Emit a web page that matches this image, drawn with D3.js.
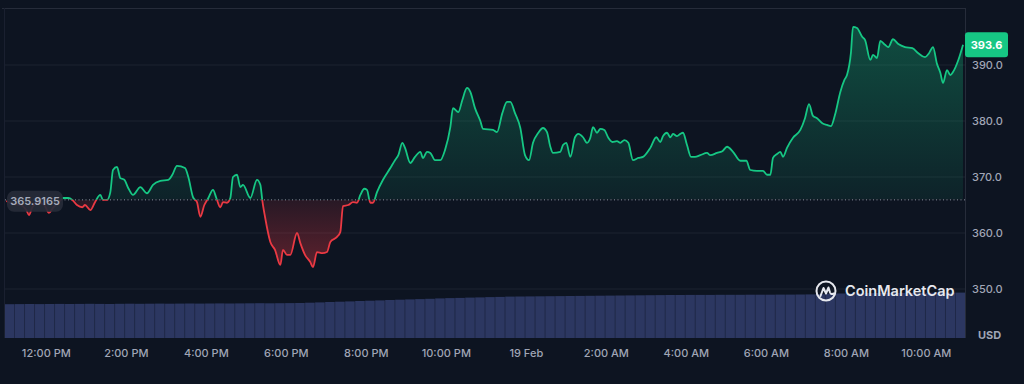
<!DOCTYPE html>
<html>
<head>
<meta charset="utf-8">
<script src="https://cdn.jsdelivr.net/npm/d3@7"></script>
<style>
  html, body { margin: 0; padding: 0; background: #0d1421; }
  svg { display: block; font-family: Inter, "Noto Sans", sans-serif; }
</style>
</head>
<body>
<svg id="chart" width="1024" height="384"></svg>
<script>
// ---------- DATA ----------
const times = [
"2024-02-18T11:00","2024-02-18T11:09","2024-02-18T11:21","2024-02-18T11:30","2024-02-18T11:34","2024-02-18T11:39","2024-02-18T11:48","2024-02-18T11:57",
"2024-02-18T12:04","2024-02-18T12:10","2024-02-18T12:18","2024-02-18T12:25","2024-02-18T12:33","2024-02-18T12:39","2024-02-18T12:46","2024-02-18T12:54","2024-02-18T12:58",
"2024-02-18T13:06","2024-02-18T13:13","2024-02-18T13:21","2024-02-18T13:25","2024-02-18T13:31","2024-02-18T13:36","2024-02-18T13:40","2024-02-18T13:46","2024-02-18T13:51","2024-02-18T13:57",
"2024-02-18T14:03","2024-02-18T14:10","2024-02-18T14:21","2024-02-18T14:31","2024-02-18T14:40","2024-02-18T14:51",
"2024-02-18T15:03","2024-02-18T15:09","2024-02-18T15:16","2024-02-18T15:28","2024-02-18T15:33","2024-02-18T15:40","2024-02-18T15:46","2024-02-18T15:51","2024-02-18T15:57",
"2024-02-18T16:03","2024-02-18T16:10","2024-02-18T16:15","2024-02-18T16:21","2024-02-18T16:25","2024-02-18T16:31","2024-02-18T16:36","2024-02-18T16:40","2024-02-18T16:46","2024-02-18T16:51","2024-02-18T16:55",
"2024-02-18T17:06","2024-02-18T17:16","2024-02-18T17:21","2024-02-18T17:24","2024-02-18T17:28","2024-02-18T17:36","2024-02-18T17:43","2024-02-18T17:51","2024-02-18T17:55",
"2024-02-18T18:01","2024-02-18T18:06","2024-02-18T18:16","2024-02-18T18:21","2024-02-18T18:28","2024-02-18T18:36","2024-02-18T18:40","2024-02-18T18:46","2024-02-18T18:54",
"2024-02-18T19:01","2024-02-18T19:06","2024-02-18T19:16","2024-02-18T19:21","2024-02-18T19:25","2024-02-18T19:33","2024-02-18T19:40","2024-02-18T19:46","2024-02-18T19:51","2024-02-18T19:57",
"2024-02-18T20:01","2024-02-18T20:06","2024-02-18T20:10","2024-02-18T20:16","2024-02-18T20:25","2024-02-18T20:36","2024-02-18T20:43","2024-02-18T20:48","2024-02-18T20:54","2024-02-18T20:58",
"2024-02-18T21:06","2024-02-18T21:13","2024-02-18T21:21","2024-02-18T21:25","2024-02-18T21:31","2024-02-18T21:36","2024-02-18T21:43","2024-02-18T21:51","2024-02-18T21:58",
"2024-02-18T22:06","2024-02-18T22:10","2024-02-18T22:18","2024-02-18T22:24","2024-02-18T22:31","2024-02-18T22:36","2024-02-18T22:43","2024-02-18T22:51","2024-02-18T22:55",
"2024-02-18T23:10","2024-02-18T23:16","2024-02-18T23:24","2024-02-18T23:31","2024-02-18T23:36","2024-02-18T23:43","2024-02-18T23:51","2024-02-18T23:58",
"2024-02-19T00:04","2024-02-19T00:10","2024-02-19T00:18","2024-02-19T00:25","2024-02-19T00:31","2024-02-19T00:36","2024-02-19T00:40","2024-02-19T00:51","2024-02-19T00:55",
"2024-02-19T01:00","2024-02-19T01:06","2024-02-19T01:13","2024-02-19T01:18","2024-02-19T01:25","2024-02-19T01:31","2024-02-19T01:36","2024-02-19T01:40","2024-02-19T01:46","2024-02-19T01:51","2024-02-19T01:57",
"2024-02-19T02:03","2024-02-19T02:09","2024-02-19T02:16","2024-02-19T02:21","2024-02-19T02:27","2024-02-19T02:33","2024-02-19T02:40","2024-02-19T02:48","2024-02-19T02:55",
"2024-02-19T03:06","2024-02-19T03:15","2024-02-19T03:21","2024-02-19T03:25","2024-02-19T03:31","2024-02-19T03:36","2024-02-19T03:40","2024-02-19T03:46","2024-02-19T03:51","2024-02-19T03:55",
"2024-02-19T04:01","2024-02-19T04:07","2024-02-19T04:13","2024-02-19T04:21","2024-02-19T04:31","2024-02-19T04:36","2024-02-19T04:46","2024-02-19T04:54",
"2024-02-19T05:01","2024-02-19T05:10","2024-02-19T05:21","2024-02-19T05:30","2024-02-19T05:36","2024-02-19T05:46","2024-02-19T05:55",
"2024-02-19T06:01","2024-02-19T06:06","2024-02-19T06:10","2024-02-19T06:16","2024-02-19T06:21","2024-02-19T06:25","2024-02-19T06:31","2024-02-19T06:40","2024-02-19T06:51","2024-02-19T06:58",
"2024-02-19T07:04","2024-02-19T07:10","2024-02-19T07:16","2024-02-19T07:24","2024-02-19T07:31","2024-02-19T07:37","2024-02-19T07:43","2024-02-19T07:51","2024-02-19T07:57",
"2024-02-19T08:01","2024-02-19T08:07","2024-02-19T08:10","2024-02-19T08:16","2024-02-19T08:24","2024-02-19T08:28","2024-02-19T08:36","2024-02-19T08:40","2024-02-19T08:46","2024-02-19T08:51","2024-02-19T08:58",
"2024-02-19T09:03","2024-02-19T09:10","2024-02-19T09:18","2024-02-19T09:28","2024-02-19T09:39","2024-02-19T09:48","2024-02-19T09:58",
"2024-02-19T10:04","2024-02-19T10:10","2024-02-19T10:16","2024-02-19T10:21","2024-02-19T10:25","2024-02-19T10:31","2024-02-19T10:36","2024-02-19T10:40","2024-02-19T10:48","2024-02-19T10:55"
];
const prices = [
365.7,365.2,365.0,364.1,363.2,364.6,365.4,365.0,
363.6,364.5,365.4,366.25,366.25,365.9,365.0,364.6,365.0,
364.1,365.5,366.8,365.9,365.9,367.3,371.25,371.8,369.8,369.5,
368.0,366.8,368.2,367.1,368.6,369.3,
369.5,370.4,372.0,371.6,370.0,366.4,365.5,362.9,365.0,
366.25,367.7,366.25,364.6,365.5,365.4,366.25,370.0,370.4,368.2,368.6,
366.25,369.5,368.6,365.8,362.9,358.4,357.0,354.3,357.0,
356.1,356.1,360.0,358.2,356.1,354.8,353.9,356.6,356.4,
356.6,358.4,359.3,360.2,364.8,365.0,365.5,365.4,366.8,367.9,
367.7,365.4,365.4,367.3,369.5,371.6,373.0,373.9,376.1,375.2,
372.5,373.6,374.5,373.4,374.5,374.3,373.0,373.0,374.8,
378.9,382.3,381.6,383.75,385.9,385.2,382.3,380.0,378.6,
378.4,378.0,381.4,383.4,383.4,381.4,378.75,373.9,
373.0,376.1,377.9,378.75,378.0,375.4,374.3,374.5,375.7,
376.1,373.6,377.1,377.7,377.1,376.1,377.0,378.9,377.9,378.6,378.4,
377.0,376.25,376.4,376.1,376.6,376.1,373.0,373.4,373.6,
375.2,377.1,376.25,377.3,377.9,377.1,377.7,377.3,377.7,377.9,
375.7,373.6,373.6,373.9,374.3,373.9,374.3,374.6,
375.4,374.5,372.9,372.9,371.25,371.1,371.1,
370.4,370.4,373.4,374.1,374.5,373.6,375.2,377.0,378.4,380.5,
383.0,380.9,380.5,379.6,379.3,379.1,381.1,385.2,387.3,
388.2,392.3,396.8,396.6,395.0,394.5,390.9,391.8,391.25,394.3,393.6,
393.2,394.6,393.75,393.2,393.0,392.1,391.4,
392.1,393.2,390.2,388.6,386.8,389.1,388.2,388.75,390.9,393.6
];
// 15-minute volume bars (arbitrary units)
const volumes = [
33.8,33.9,34.0,33.9,34.0,34.1,34.0,34.1,34.2,34.1,34.0,34.2,34.3,34.2,34.3,34.4,34.3,34.4,34.5,34.4,34.5,34.6,34.5,34.6,34.7,34.8,34.7,34.8,34.9,35.0,
35.3,35.6,36.0,36.3,36.6,37.0,37.3,37.6,38.0,38.3,38.6,
38.9,39.2,39.6,39.9,40.1,40.4,40.6,40.9,41.1,41.4,
41.5,41.6,41.7,41.8,41.9,42.0,42.1,42.2,42.3,42.4,42.5,42.6,42.7,42.8,42.9,
43.0,43.0,43.1,43.1,43.1,43.2,43.2,43.2,43.3,43.3,43.3,43.4,43.4,43.5,43.6,43.8,
44.2,44.5,44.7,44.8,44.9,45.0,45.0,45.1,45.1,45.2,45.2,45.3,45.3,45.4
];
const baselinePrice = 365.9165;
const baselineLabel = "365.9165";
const lastPriceLabel = "393.6";
const yTickValues = [350, 360, 370, 380, 390];
const xTickValues = ["2024-02-18T12:00","2024-02-18T14:00","2024-02-18T16:00","2024-02-18T18:00","2024-02-18T20:00","2024-02-18T22:00",
                     "2024-02-19T00:00","2024-02-19T02:00","2024-02-19T04:00","2024-02-19T06:00","2024-02-19T08:00","2024-02-19T10:00"];
const xTickLabels = ["12:00 PM","2:00 PM","4:00 PM","6:00 PM","8:00 PM","10:00 PM","19 Feb","2:00 AM","4:00 AM","6:00 AM","8:00 AM","10:00 AM"];
const domainStart = "2024-02-18T10:58";
const domainEnd = "2024-02-19T10:58";
const currencyLabel = "USD";
const brand = "CoinMarketCap";

// ---------- LAYOUT ----------
const L = 5, R = 965, T = 8, B = 338;
const parse = d3.isoParse;
const data = times.map((t, i) => ({ t: parse(t), v: prices[i] }));

const svg = d3.select("#chart");
const x = d3.scaleTime().domain([parse(domainStart), parse(domainEnd)]).range([L, R]);
const y = d3.scaleLinear().domain([350, 390]).range([289, 65]);
const yBase = y(baselinePrice);

const GREEN = "#16c784", RED = "#ea3943";

const defs = svg.append("defs");
const gg = defs.append("linearGradient").attr("id", "gGreen").attr("gradientUnits", "userSpaceOnUse")
  .attr("x1", 0).attr("x2", 0).attr("y1", y(397)).attr("y2", yBase);
gg.append("stop").attr("offset", 0).attr("stop-color", GREEN).attr("stop-opacity", 0.32);
gg.append("stop").attr("offset", 1).attr("stop-color", GREEN).attr("stop-opacity", 0.08);
const gr = defs.append("linearGradient").attr("id", "gRed").attr("gradientUnits", "userSpaceOnUse")
  .attr("x1", 0).attr("x2", 0).attr("y1", yBase).attr("y2", y(354));
gr.append("stop").attr("offset", 0).attr("stop-color", RED).attr("stop-opacity", 0.12);
gr.append("stop").attr("offset", 1).attr("stop-color", RED).attr("stop-opacity", 0.36);
defs.append("clipPath").attr("id", "cAbove").append("rect").attr("x", L).attr("y", T).attr("width", R - L).attr("height", yBase - T);
defs.append("clipPath").attr("id", "cBelow").append("rect").attr("x", L).attr("y", yBase).attr("width", R - L).attr("height", B - yBase);

// gridlines
svg.append("g").selectAll("line").data(yTickValues).join("line")
  .attr("x1", L).attr("x2", R).attr("y1", d => y(d)).attr("y2", d => y(d))
  .attr("stroke", "#1c2230").attr("stroke-width", 1);

// frame
svg.append("line").attr("x1", 2).attr("x2", R).attr("y1", T + 0.5).attr("y2", T + 0.5).attr("stroke", "#262c3a");
svg.append("line").attr("x1", R + 0.5).attr("x2", R + 0.5).attr("y1", T).attr("y2", B).attr("stroke", "#262c3a");
svg.append("line").attr("x1", L - 0.5).attr("x2", L - 0.5).attr("y1", T).attr("y2", B).attr("stroke", "#1a2030");

// volume bars
const xb = d3.scaleBand().domain(d3.range(volumes.length)).range([L, R]).paddingInner(0.04);
const yv = d3.scaleLinear().domain([0, 45]).range([B, B - 45]);
svg.append("g").selectAll("rect").data(volumes).join("rect")
  .attr("x", (d, i) => xb(i)).attr("width", xb.bandwidth())
  .attr("y", d => yv(d)).attr("height", d => B - yv(d))
  .attr("fill", "#2c3761");

// areas
const area = d3.area().x(d => x(d.t)).y0(yBase).y1(d => y(d.v)).curve(d3.curveMonotoneX);
const line = d3.line().x(d => x(d.t)).y(d => y(d.v)).curve(d3.curveMonotoneX);
svg.append("path").datum(data).attr("d", area).attr("fill", "url(#gGreen)").attr("clip-path", "url(#cAbove)");
svg.append("path").datum(data).attr("d", area).attr("fill", "url(#gRed)").attr("clip-path", "url(#cBelow)");

// baseline
svg.append("line").attr("x1", L).attr("x2", R).attr("y1", yBase).attr("y2", yBase)
  .attr("stroke", "#8a909e").attr("stroke-width", 1).attr("stroke-dasharray", "1,2.5");

// lines
svg.append("path").datum(data).attr("d", line).attr("fill", "none").attr("stroke", GREEN)
  .attr("stroke-width", 1.8).attr("stroke-linejoin", "round").attr("clip-path", "url(#cAbove)");
svg.append("path").datum(data).attr("d", line).attr("fill", "none").attr("stroke", RED)
  .attr("stroke-width", 1.8).attr("stroke-linejoin", "round").attr("clip-path", "url(#cBelow)");

// y axis labels
svg.append("g").selectAll("text").data(yTickValues).join("text")
  .attr("x", 972).attr("y", d => y(d)).attr("dy", "0.36em")
  .attr("fill", "#a0a6b6").attr("font-size", 11).attr("font-weight", 500)
  .text(d => d3.format(".1f")(d));
svg.append("text").attr("x", 978).attr("y", 335).attr("dy", "0.36em")
  .attr("fill", "#a0a6b6").attr("font-size", 11).attr("font-weight", 700).text(currencyLabel);

// x axis labels
svg.append("g").selectAll("text").data(xTickValues).join("text")
  .attr("x", d => x(parse(d))).attr("y", 353).attr("dy", "0.36em").attr("text-anchor", "middle")
  .attr("fill", "#a0a6b6").attr("font-size", 11).attr("font-weight", 500)
  .text((d, i) => xTickLabels[i]);

// last price tag
const last = data[data.length - 1];
svg.append("rect").attr("x", R).attr("y", y(last.v) - 12.5).attr("width", 43).attr("height", 25).attr("rx", 3)
  .attr("fill", GREEN);
svg.append("text").attr("x", R + 21.5).attr("y", y(last.v)).attr("dy", "0.36em").attr("text-anchor", "middle")
  .attr("fill", "#ffffff").attr("font-size", 11).attr("font-weight", 700).text(lastPriceLabel);

// baseline label
svg.append("rect").attr("x", 7).attr("y", yBase - 9).attr("width", 56).attr("height", 21).attr("rx", 7)
  .attr("fill", "#262b38").attr("fill-opacity", 0.92);
svg.append("text").attr("x", 35).attr("y", yBase + 1.5).attr("dy", "0.36em").attr("text-anchor", "middle")
  .attr("fill", "#a5abbb").attr("font-size", 11).attr("font-weight", 600).text(baselineLabel);

// brand logo
const logo = svg.append("g").attr("transform", "translate(826,291)");
logo.append("circle").attr("r", 9.5).attr("fill", "none").attr("stroke", "#e6e8ee").attr("stroke-width", 2);
logo.append("path").attr("d", "M-5.5,5 L-2.5,-3 L0,2.5 L2.5,-3.5 L4,1.5 Q5,4 8,2.5")
  .attr("fill", "none").attr("stroke", "#e6e8ee").attr("stroke-width", 2).attr("stroke-linejoin", "round").attr("stroke-linecap", "round");
svg.append("text").attr("x", 845).attr("y", 291).attr("dy", "0.36em")
  .attr("fill", "#e6e8ee").attr("font-size", 14.5).attr("font-weight", 600).text(brand);
</script>
</body>
</html>
